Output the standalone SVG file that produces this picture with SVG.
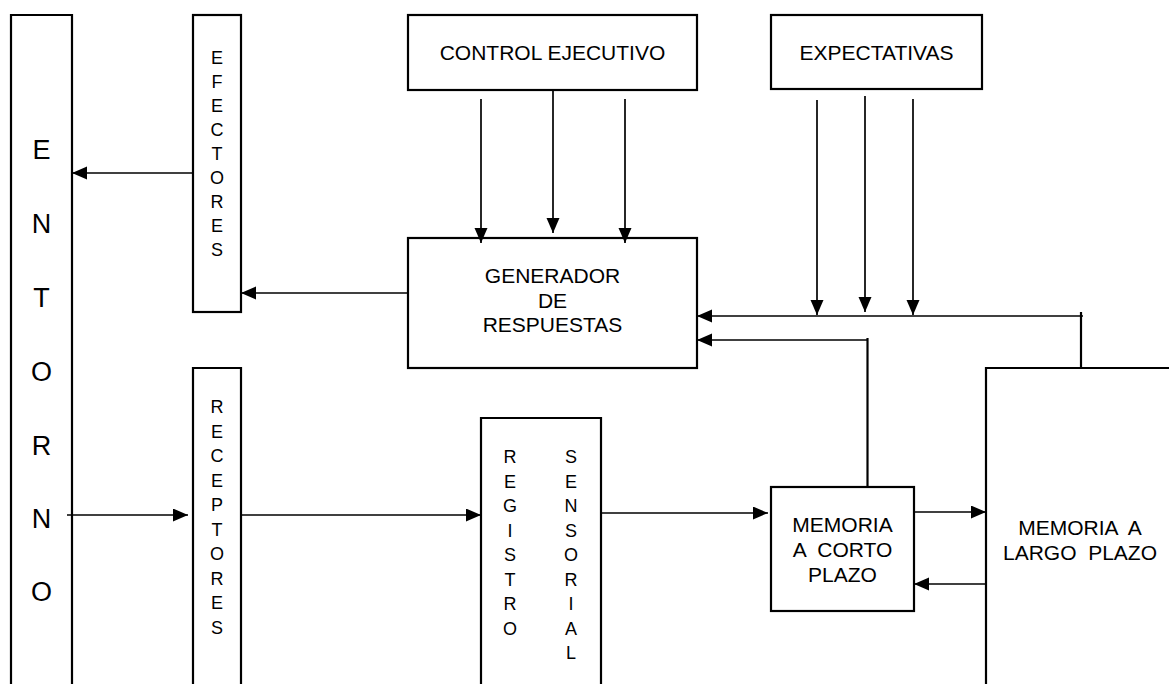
<svg xmlns="http://www.w3.org/2000/svg" width="1169" height="684" viewBox="0 0 1169 684">
<style>
.box{fill:#fff;stroke:#000;stroke-width:2.2}
.ln{fill:none;stroke:#000;stroke-width:2.2}
.c{fill:none;stroke:#000;stroke-width:1.7}
.t{font-family:"Liberation Sans",Arial,sans-serif;font-size:21px;fill:#000;text-anchor:middle}
.v{font-family:"Liberation Sans",Arial,sans-serif;font-size:18px;fill:#000;text-anchor:middle}
.big{font-family:"Liberation Sans",Arial,sans-serif;font-size:27px;fill:#000;text-anchor:middle}
</style>
<defs>
<marker id="ah" markerUnits="userSpaceOnUse" markerWidth="16" markerHeight="14" refX="15" refY="6.5" orient="auto">
<path d="M0,0 L15,6.5 L0,13 z" fill="#000"/>
</marker>
</defs>
<rect width="1169" height="684" fill="#fff"/>

<g id="entorno">
<path class="ln" d="M11,684 V15 H72 V684"/>
<text class="big" x="41.5" y="159">E</text>
<text class="big" x="41.5" y="233">N</text>
<text class="big" x="41.5" y="307">T</text>
<text class="big" x="41.5" y="381">O</text>
<text class="big" x="41.5" y="455">R</text>
<text class="big" x="41.5" y="528">N</text>
<text class="big" x="41.5" y="601">O</text>
</g>

<g id="efectores">
<rect class="box" x="193" y="15" width="48" height="297"/>
<text class="v" x="217" y="64">E</text>
<text class="v" x="217" y="88">F</text>
<text class="v" x="217" y="112">E</text>
<text class="v" x="217" y="136">C</text>
<text class="v" x="217" y="160">T</text>
<text class="v" x="217" y="184">O</text>
<text class="v" x="217" y="208">R</text>
<text class="v" x="217" y="232">E</text>
<text class="v" x="217" y="256">S</text>
</g>

<g id="receptores">
<path class="ln" d="M193,684 V368 H241 V684"/>
<text class="v" x="217" y="413">R</text>
<text class="v" x="217" y="437.5">E</text>
<text class="v" x="217" y="462">C</text>
<text class="v" x="217" y="486.5">E</text>
<text class="v" x="217" y="511">P</text>
<text class="v" x="217" y="535.5">T</text>
<text class="v" x="217" y="560">O</text>
<text class="v" x="217" y="584.5">R</text>
<text class="v" x="217" y="609">E</text>
<text class="v" x="217" y="633.5">S</text>
</g>

<g id="control">
<rect class="box" x="408" y="15" width="289" height="75"/>
<text class="t" x="552.5" y="60">CONTROL EJECUTIVO</text>
</g>

<g id="generador">
<rect class="box" x="408" y="238" width="289" height="130"/>
<text class="t" x="552.5" y="283">GENERADOR</text>
<text class="t" x="552.5" y="308">DE</text>
<text class="t" x="552.5" y="332">RESPUESTAS</text>
</g>

<g id="expectativas">
<rect class="box" x="771" y="15" width="211" height="74"/>
<text class="t" x="876.5" y="60">EXPECTATIVAS</text>
</g>

<g id="registro">
<path class="ln" d="M481,684 V418 H601 V684"/>
<text class="v" x="510" y="463">R</text>
<text class="v" x="510" y="487.5">E</text>
<text class="v" x="510" y="512">G</text>
<text class="v" x="510" y="536.5">I</text>
<text class="v" x="510" y="561">S</text>
<text class="v" x="510" y="585.5">T</text>
<text class="v" x="510" y="610">R</text>
<text class="v" x="510" y="634.5">O</text>
<text class="v" x="571" y="463">S</text>
<text class="v" x="571" y="487.5">E</text>
<text class="v" x="571" y="512">N</text>
<text class="v" x="571" y="536.5">S</text>
<text class="v" x="571" y="561">O</text>
<text class="v" x="571" y="585.5">R</text>
<text class="v" x="571" y="610">I</text>
<text class="v" x="571" y="634.5">A</text>
<text class="v" x="571" y="659">L</text>
</g>

<g id="corto-plazo">
<rect class="box" x="771" y="487" width="143" height="124"/>
<text class="t" x="842.5" y="532">MEMORIA</text>
<text class="t" x="842.5" y="557" xml:space="preserve">A  CORTO</text>
<text class="t" x="842.5" y="582">PLAZO</text>
</g>

<g id="largo-plazo">
<path class="ln" d="M986,684 V368 H1169"/>
<text class="t" x="1080" y="535" xml:space="preserve">MEMORIA  A</text>
<text class="t" x="1080" y="560" xml:space="preserve">LARGO  PLAZO</text>
</g>

<g id="connectors">
<line class="c" x1="193" y1="173" x2="72" y2="173" marker-end="url(#ah)"/>
<line class="c" x1="408" y1="293" x2="241" y2="293" marker-end="url(#ah)"/>
<line class="c" x1="481" y1="99" x2="481" y2="243" marker-end="url(#ah)"/>
<line class="c" x1="553" y1="90" x2="553" y2="233" marker-end="url(#ah)"/>
<line class="c" x1="625" y1="99" x2="625" y2="243" marker-end="url(#ah)"/>
<line class="c" x1="817" y1="100" x2="817" y2="315" marker-end="url(#ah)"/>
<line class="c" x1="865" y1="96" x2="865" y2="312" marker-end="url(#ah)"/>
<line class="c" x1="913" y1="99" x2="913" y2="315" marker-end="url(#ah)"/>
<line class="c" x1="1083" y1="316" x2="697" y2="316" marker-end="url(#ah)"/>
<line class="ln" x1="1081" y1="312" x2="1081" y2="368"/>
<line class="c" x1="867" y1="340" x2="697" y2="340" marker-end="url(#ah)"/>
<line class="ln" x1="867.5" y1="338" x2="867.5" y2="487"/>
<line class="c" x1="67" y1="515" x2="188" y2="515" marker-end="url(#ah)"/>
<line class="c" x1="241" y1="515" x2="481" y2="515" marker-end="url(#ah)"/>
<line class="c" x1="601" y1="513" x2="768" y2="513" marker-end="url(#ah)"/>
<line class="c" x1="914" y1="512" x2="986" y2="512" marker-end="url(#ah)"/>
<line class="c" x1="986" y1="584" x2="914" y2="584" marker-end="url(#ah)"/>
</g>
</svg>
